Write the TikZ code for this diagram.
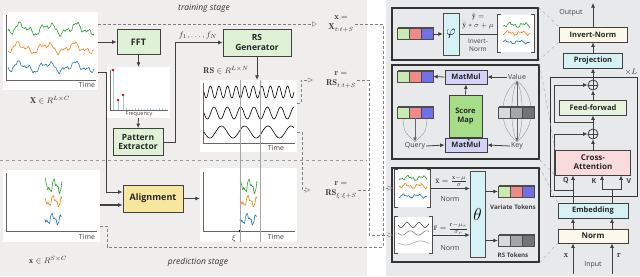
\documentclass[tikz,border=0pt]{standalone}
\usepackage{fontspec}
\setsansfont{Open Sans}
\usetikzlibrary{arrows.meta,positioning,calc,shadows}

\definecolor{leftbg}{RGB}{240,238,236}
\definecolor{rightbg}{RGB}{231,233,235}
\definecolor{boxgreen}{RGB}{223,242,214}
\definecolor{boxyellow}{RGB}{247,230,158}
\definecolor{tokgreen}{RGB}{200,236,176}
\definecolor{tokred}{RGB}{240,138,138}
\definecolor{tokblue}{RGB}{112,112,232}
\definecolor{matlav}{RGB}{211,211,247}
\definecolor{scoregreen}{RGB}{166,222,136}
\definecolor{lightcyan}{RGB}{215,242,245}
\definecolor{cream}{RGB}{253,249,232}
\definecolor{ffgreen}{RGB}{229,244,219}
\definecolor{attpink}{RGB}{250,219,219}
\definecolor{sgreen}{RGB}{44,160,44}
\definecolor{sorange}{RGB}{255,127,14}
\definecolor{sblue}{RGB}{31,119,180}

\tikzset{
  block/.style={draw=black!75, thick, align=center, inner sep=1pt, text=black!85,
    font=\sffamily\bfseries\fontsize{8}{9}\selectfont},
  bigblock/.style={block, font=\sffamily\bfseries\fontsize{9}{10.5}\selectfont},
  chart/.style={fill=white, inner sep=0pt},
  tok/.style={draw=black!70, line width=0.4pt, minimum width=12pt, minimum height=11pt,
    inner sep=0pt, general shadow={shadow xshift=1pt, shadow yshift=1.5pt, fill=black!70}},
  arr/.style={draw=black!75, thick, -{Latex[length=4.5pt,width=4pt]}},
  thinarr/.style={draw=black!60, -{Latex[length=4pt,width=3.5pt]}},
  dasharr/.style={draw=black!50, densely dashed, shorten >=2pt, -{Triangle[open,length=5pt,width=5pt]}},
  dashln/.style={draw=black!50, densely dashed},
  link/.style={draw=black!35, dashed, line width=0.4pt},
  panel/.style={draw=black!80, very thick, inner sep=0pt},
  lbl/.style={font=\sffamily\fontsize{7}{8}\selectfont, text=black!75, inner sep=1pt},
  mlbl/.style={font=\fontsize{8.5}{10}\selectfont, align=center, inner sep=1pt, text=black!80},
  stage/.style={font=\sffamily\itshape\fontsize{8.5}{10}\selectfont, text=black!80},
  axis/.style={draw=black!60, line width=0.4pt},
  series/.style={line width=0.6pt, line join=round},
  declare function={sa(\t)=4*sin(13*\t)+2.5*sin(31*\t+50)+1.3*sin(67*\t+20)+0.7*sin(151*\t);
    sb(\t)=5*sin(38*\t)+2.5*sin(85*\t+40)+1*sin(190*\t+10);}
}

% three token cells side by side
\newcommand{\tokrow}[5]{%
  \foreach \col [count=\i] in {#3,#4,#5}
    \node[tok, fill=\col] (#1-\i) at ($(#2)+(12*\i-12,0)$) {};
}
% square brackets round a chart node
\newcommand{\brackets}[1]{%
  \draw[black!70, thick] ($(#1.north west)+(3,0)$) -- (#1.north west) -- (#1.south west) -- ++(3,0);
  \draw[black!70, thick] ($(#1.north east)+(-3,0)$) -- (#1.north east) -- (#1.south east) -- ++(-3,0);
}

\begin{document}
\begin{tikzpicture}[x=1pt,y=-1pt]
  \useasboundingbox (0,0) rectangle (640,276);
  % Backgrounds
  \fill[leftbg] (0,0) rectangle (367,276);
  \fill[rightbg] (386,0) rectangle (640,276);
  % Stages
  \node[stage] (train) at (204,8) {training stage};
  \node[stage] (pred) at (198,262) {prediction stage};
  \draw[black!40, dashed, thick] (0,160) -- (367,160);

  % Input series (training)
  \node[chart, minimum width=95, minimum height=78] (inchart) at (50.5,51) {};
  \draw[axis] (6,15) -- (6,80) -- (96,80);
  \draw[series, sgreen] plot[domain=8:94, samples=120] (\x, {29+sa(\x)});
  \draw[series, sorange] plot[domain=8:94, samples=120] (\x, {48+0.9*sa(\x+2)});
  \draw[series, sblue] plot[domain=8:94, samples=120] (\x, {67+0.9*sa(\x+1)});
  \node[lbl] (time1) at (87,85) {Time};
  \node[mlbl] (xlong) at (50,100) {$\mathbf{X}\in R^{L\times C}$};

  % Frequency branch
  \node[bigblock, fill=boxgreen, minimum width=43, minimum height=25] (fft) at (138.5,42) {FFT};
  \node[chart, minimum width=63, minimum height=51] (freq) at (138.5,92.5) {};
  \draw[axis] (110,70) -- (110,110) -- (168,110);
  \foreach \bx in {126,129,...,165}
    \draw[sblue!35] (\bx,110) -- (\bx,{109-mod(\bx,4)*0.5});
  \foreach \bx/\by in {113/70, 118/100, 123/95}{
    \draw[sblue!40, line width=1pt] (\bx,110) -- (\bx,\by);
    \fill[red!85!black] (\bx,\by) circle (1.3);
  }
  \node[lbl, font=\sffamily\fontsize{5.5}{6}\selectfont] (freqlbl) at (139,114.5) {Frequency};
  \node[block, fill=boxgreen, minimum width=50, minimum height=27,
    font=\sffamily\bfseries\fontsize{8.5}{9.5}\selectfont] (pattern) at (138,142) {Pattern\\Extractor};
  \draw[arr] (inchart.east |- fft.west) -- (fft.west);
  \draw[arr] (fft.south) -- (freq.north);
  \draw[arr] (freq.south) -- (pattern.north);

  % Reference signal generation
  \node[block, fill=boxgreen, minimum width=68, minimum height=27,
    font=\sffamily\bfseries\fontsize{8.5}{9.5}\selectfont] (rsgen) at (257,42.5) {RS\\Generator};
  \draw[arr] (pattern.east) -- ++(12,0) |- (rsgen.west);
  \node[mlbl] (freqs) at (198,35) {$f_1,\ldots,f_N$};
  \node[chart, minimum width=97, minimum height=72] (waves) at (248.5,116) {};
  \draw[arr] (rsgen.south) -- (rsgen.south |- waves.north);
  \node[mlbl] (rsdim) at (226,70) {$\mathbf{RS}\in R^{L\times N}$};
  \draw[axis] (203,83) -- (203,143) -- (295,143);
  \draw[series] plot[domain=204:294, samples=220] (\x, {92+6*sin(42*(\x-204))});
  \draw[series] plot[domain=204:294, samples=160] (\x, {113+6*sin(27*(\x-204))});
  \draw[series] plot[domain=204:294, samples=120] (\x, {132+6*sin(15.5*(\x-204))});
  \node[lbl] (time2) at (276,148) {Time};

  % Input series (prediction)
  \node[chart, minimum width=97, minimum height=72] (predchart) at (51.5,206) {};
  \draw[axis] (6,173) -- (6,231) -- (97,231);
  \draw[series, sgreen] plot[domain=45:62, samples=60] (\x, {186+sb(\x)});
  \draw[series, sorange] plot[domain=45:62, samples=60] (\x, {201+0.8*sb(\x+1)});
  \draw[series, sblue] plot[domain=45:62, samples=60] (\x, {219+0.8*sb(\x+2)});
  \node[lbl] (time3) at (87,237) {Time};
  \node[mlbl] (xshort) at (48,260) {$\mathbf{x}\in R^{S\times C}$};

  % Alignment
  \node[bigblock, fill=boxyellow, minimum width=60, minimum height=27] (align) at (153,198.5) {Alignment};
  \coordinate (tap) at (106,72);
  \draw[arr] (inchart.east |- tap) -- (tap) |- ($(align.west)+(0,-6.5)$);
  \draw[arr, line width=1.2pt] ($(predchart.east)+(0,-1)$) -- ($(align.west)+(0,6.5)$);
  \node[chart, minimum width=97, minimum height=74] (aligned) at (248.5,205) {};
  \draw[arr] (align.east) -- (align.east -| aligned.west);
  \draw[axis] (203,172) -- (203,231) -- (295,231);
  \draw[series, sgreen] plot[domain=240:257, samples=60] (\x, {186+sb(\x-195)});
  \draw[series, sorange] plot[domain=240:257, samples=60] (\x, {201+0.8*sb(\x-194)});
  \draw[series, sblue] plot[domain=240:257, samples=60] (\x, {219+0.8*sb(\x-193)});
  \fill[black] (240,231) circle (1.4);
  \node[mlbl] (xi) at (234,238) {$\xi$};
  \node[lbl] (time4) at (276,237) {Time};
  % Window lines
  \draw[black!35, line width=0.4pt] (240,80) -- (240,242) (260,80) -- (260,242);

  % Window labels
  \node[mlbl] (xtrain) at (341,24) {$\mathbf{x}=$\\$\mathbf{X}_{t:t+S}$};
  \node[mlbl] (rtrain) at (341,80) {$\mathbf{r}=$\\$\mathbf{RS}_{t:t+S}$};
  \node[mlbl] (rpred) at (341,190) {$\mathbf{r}=$\\$\mathbf{RS}_{\xi:\xi+S}$};
  \draw[dasharr, shorten >=10pt] (inchart.east |- xtrain.west) -- (xtrain.west);
  \draw[dasharr, shorten >=12pt] ($(waves.east)+(0,-13)$) -- ++(4,0) |- (rtrain.west);
  \draw[dasharr, shorten >=14pt] ($(waves.east)+(0,16)$) -- ++(5,0) |- (rpred.west);

  % Invert-Norm detail
  \node[panel, minimum width=146, minimum height=52] (toppanel) at (465,34) {};
  \tokrow{tokA}{403,34}{tokgreen}{tokred}{tokblue}
  \node[draw=black!70, fill=lightcyan, minimum width=16, minimum height=42, inner sep=0] (phi) at (451,34) {\fontsize{15}{15}\selectfont$\varphi$};
  \draw[arr] (tokA-3.east) -- (phi.west);
  \node[chart, minimum width=36, minimum height=37] (ychart) at (516,33.5) {};
  \brackets{ychart}
  \draw[series, sgreen] plot[domain=503:530, samples=60] (\x, {25+0.4*sa(2*(\x-500))});
  \draw[series, sorange] plot[domain=503:530, samples=60] (\x, {33+0.35*sa(2*(\x-500)+5)});
  \draw[series, sblue] plot[domain=503:530, samples=60] (\x, {42+0.3*sa(2*(\x-500)+9)});
  \draw[thick, black!75] (phi.east) -- (phi.east -| ychart.west);
  \node[mlbl, font=\fontsize{7.5}{8.5}\selectfont] (yhat) at (478,21) {$\hat{\mathbf{y}}=$\\$\bar{\mathbf{y}}*\sigma+\mu$};
  \node[lbl, align=center, font=\sffamily\fontsize{6.5}{7.5}\selectfont] (invlbl) at (478,45) {Invert-\\Norm};

  % Attention detail
  \node[panel, minimum width=147, minimum height=94] (attpanel) at (465.5,112) {};
  \node[block, fill=matlav, minimum width=42, minimum height=14,
    font=\sffamily\bfseries\fontsize{7.5}{8.5}\selectfont] (mm1) at (466,77) {MatMul};
  \node[block, fill=scoregreen, minimum width=33, minimum height=42,
    font=\sffamily\bfseries\fontsize{7.5}{9}\selectfont] (score) at (465.5,116) {Score\\Map};
  \node[block, fill=matlav, minimum width=42, minimum height=14,
    font=\sffamily\bfseries\fontsize{7.5}{8.5}\selectfont] (mm2) at (466,145) {MatMul};
  \node[lbl] (value) at (517,77) {Value};
  \node[lbl] (key) at (517,146) {Key};
  \node[lbl] (query) at (415,146) {Query};
  \foreach \dx in {-19,-7,7,19}
    \draw[black!40, line width=0.4pt] (value.south) .. controls ({517+\dx},95) and ({517+\dx},128) .. (key.north);
  \draw[thinarr, {Latex[length=3.5pt,width=3pt]}-{Latex[length=3.5pt,width=3pt]}] (value.south) -- (key.north);
  \tokrow{tokD}{504,112.5}{black!15}{black!35}{black!55}
  \tokrow{tokB}{403,76.5}{tokgreen}{tokred}{tokblue}
  \tokrow{tokC}{403,112.5}{tokgreen}{tokred}{tokblue}
  \draw[black!40, line width=0.4pt] (tokC-1.south) .. controls (404,132) .. (query.north);
  \draw[black!40, line width=0.4pt] (tokC-3.south) .. controls (426,132) .. (query.north);
  \draw[thinarr] (tokC-2.south) -- (query.north);
  \draw[arr] (mm1.west) -- (tokB-3.east);
  \draw[arr] (value.west) -- (mm1.east);
  \draw[arr] (score.north) -- (mm1.south);
  \draw[arr] (mm2.north) -- (score.south);
  \draw[arr] (query.east) -- (mm2.west);
  \draw[arr] (key.west) -- (mm2.east);

  % Embedding detail
  \node[panel, minimum width=147, minimum height=94] (embpanel) at (465.5,215) {};
  \node[chart, minimum width=35, minimum height=37] (xbar) at (412.5,188.5) {};
  \brackets{xbar}
  \draw[series, sgreen] plot[domain=399:427, samples=60] (\x, {178+0.4*sa(2*(\x-398))});
  \draw[series, sorange] plot[domain=399:427, samples=60] (\x, {186+0.4*sa(2*(\x-398)+5)});
  \draw[series, sblue] plot[domain=399:427, samples=60] (\x, {196+0.3*sa(2*(\x-398)+9)});
  \node[chart, minimum width=37, minimum height=36] (rbar) at (413.5,235) {};
  \brackets{rbar}
  \draw[series, black!70] plot[domain=398:429, samples=80] (\x, {225+2.5*sin(30*(\x-398))});
  \draw[series, black!50] plot[domain=398:429, samples=80] (\x, {233+2.2*sin(22*(\x-398))});
  \draw[series, black!35] plot[domain=398:429, samples=80] (\x, {243+2*sin(12*(\x-398))});
  \node[draw=black!70, fill=lightcyan, minimum width=15, minimum height=86, inner sep=0] (theta) at (477.5,214) {\fontsize{16}{16}\selectfont$\theta$};
  \draw[arr] (xbar.east) -- (xbar.east -| theta.west);
  \draw[arr] (rbar.east) -- (rbar.east -| theta.west);
  \node[mlbl, font=\fontsize{8}{9}\selectfont] (xnorm) at (451,181) {$\bar{\mathbf{x}}=\frac{\mathbf{x}-\mu}{\sigma}$};
  \node[lbl] (norm1) at (450,199) {Norm};
  \node[mlbl, font=\fontsize{8}{9}\selectfont] (rnorm) at (451,229) {$\bar{\mathbf{r}}=\frac{\mathbf{r}-\mu_r}{\sigma_r}$};
  \node[lbl] (norm2) at (450,248) {Norm};
  \tokrow{tokE}{504,191.5}{tokgreen}{tokred}{tokblue}
  \tokrow{tokF}{504,240.5}{black!15}{black!35}{black!55}
  \draw[arr] (theta.east |- tokE-1) -- (tokE-1.west);
  \draw[arr] (theta.east |- tokF-1) -- (tokF-1.west);
  \node[lbl, font=\sffamily\bfseries\fontsize{6.2}{7}\selectfont] (vtok) at (513,207) {Variate Tokens};
  \node[lbl, font=\sffamily\bfseries\fontsize{6.2}{7}\selectfont] (rstok) at (513,255) {RS Tokens};

  % Windows into the model
  \coordinate (xjoin) at (383,188);
  \coordinate (rjoin) at (369,235);
  \coordinate (pjoin) at (107,247);
  \draw[dasharr] (xtrain.east) -| (xjoin) -- (xjoin -| xbar.west);
  \draw[dashln] ($(predchart.east)+(0,20)$) -| (pjoin) -| (xjoin);
  \draw[dasharr] (rtrain.east) -| (rjoin) -- (rjoin -| rbar.west);
  \draw[dashln] (rpred.east) -- (rpred.east -| rjoin);

  % Model column
  \node[block, fill=cream, minimum width=68, minimum height=15,
    font=\sffamily\bfseries\fontsize{7.5}{8.5}\selectfont] (invnorm) at (593,34.5) {Invert-Norm};
  \node[block, fill=lightcyan, minimum width=59, minimum height=15,
    font=\sffamily\bfseries\fontsize{7.5}{8.5}\selectfont] (proj) at (593,60.5) {Projection};
  \node[draw=black!80, thick, inner sep=0, minimum width=87, minimum height=119] (layer) at (593.5,136.5) {};
  \node[mlbl] (times) at (631,72) {$\times L$};
  \node[draw=black!75, thick, circle, minimum size=10, inner sep=0] (add1) at (593,85) {};
  \node[block, fill=ffgreen, minimum width=67, minimum height=15,
    font=\sffamily\bfseries\fontsize{7.5}{8.5}\selectfont] (ff) at (593,107.5) {Feed-forwad};
  \node[draw=black!75, thick, circle, minimum size=10, inner sep=0] (add2) at (593,134) {};
  \node[block, fill=attpink, minimum width=75, minimum height=25] (ca) at (593,162.5) {Cross-\\Attention};
  \node[block, fill=lightcyan, minimum width=70, minimum height=15,
    font=\sffamily\bfseries\fontsize{7.5}{8.5}\selectfont] (emb) at (593,210.5) {Embedding};
  \node[block, fill=cream, minimum width=70, minimum height=14] (norm) at (593,236) {Norm};
  \draw[black!75, thick] (add1.north) -- (add1.south) (add1.west) -- (add1.east);
  \draw[black!75, thick] (add2.north) -- (add2.south) (add2.west) -- (add2.east);
  \coordinate (outtop) at (593,3);
  \node[lbl] (outlbl) at (571,13) {Output};
  \draw[arr] (invnorm.north) -- (outtop);
  \draw[arr] (proj.north) -- (invnorm.south);
  \draw[arr] (add1.north) -- (proj.south);
  \draw[arr] (ff.north) -- (add1.south);
  \draw[arr] (add2.north) -- (ff.south);
  \draw[arr] (ca.north) -- (add2.south);
  % Residual paths
  \coordinate (resx) at (554,0);
  \coordinate (res1) at (593,122);
  \coordinate (res2) at (573,190);
  \draw[arr] (res1) -- (res1 -| resx) |- (add1.west);
  \draw[arr] (res2) -- (res2 -| resx) |- (add2.west);
  % Q, K, V inputs
  \coordinate (kv) at (612,189);
  \coordinate (kk) at (602,189);
  \coordinate (vv) at (621,189);
  \draw[arr] (emb.north -| res2) -- (ca.south -| res2);
  \draw[black!75, thick] (emb.north -| kv) -- (kv);
  \draw[arr] (kv) -- (kk) -- (ca.south -| kk);
  \draw[arr] (kv) -- (vv) -- (ca.south -| vv);
  \node[lbl, font=\sffamily\bfseries\fontsize{7}{8}\selectfont] (qlbl) at (566,181) {Q};
  \node[lbl, font=\sffamily\bfseries\fontsize{7}{8}\selectfont] (klbl) at (594,181) {K};
  \node[lbl, font=\sffamily\bfseries\fontsize{7}{8}\selectfont] (vlbl) at (629,181) {V};
  \draw[arr] (norm.north -| res2) -- (emb.south -| res2);
  \draw[arr] (norm.north -| kv) -- (emb.south -| kv);
  \coordinate (inx) at (573,274);
  \coordinate (inr) at (612,274);
  \draw[arr] (inx) -- (norm.south -| inx);
  \draw[arr] (inr) -- (norm.south -| inr);
  \node[mlbl, font=\fontsize{9}{10}\selectfont] (xin) at (566,255) {$\mathbf{x}$};
  \node[mlbl, font=\fontsize{9}{10}\selectfont] (rin) at (619,255) {$\mathbf{r}$};
  \node[lbl] (inlbl) at (593,265) {Input};

  % Links from details to the column
  \draw[link] (toppanel.north east) -- (invnorm.north west);
  \draw[link] (toppanel.south east) -- (invnorm.south west);
  \draw[link] (attpanel.north east) -- (ca.north west);
  \draw[link] (attpanel.south east) -- (ca.south west);
  \draw[link] (embpanel.north east) -- (emb.north west);
  \draw[link] (embpanel.south east) -- (norm.south west);
\end{tikzpicture}
\end{document}
